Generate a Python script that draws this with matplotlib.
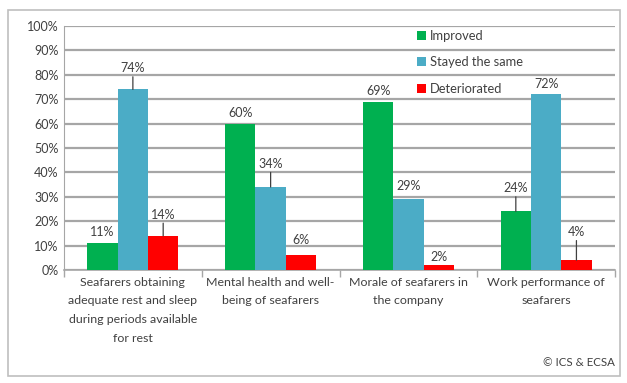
import matplotlib
matplotlib.use("Agg")
import matplotlib.pyplot as plt
import numpy as np
from matplotlib.patches import Rectangle

categories = ["Seafarers obtaining\nadequate rest and sleep\nduring periods available\nfor rest",
              "Mental health and well-\nbeing of seafarers",
              "Morale of seafarers in\nthe company",
              "Work performance of\nseafarers"]
series_names = ["Improved", "Stayed the same", "Deteriorated"]
improved = [11, 60, 69, 24]
stayed = [74, 34, 29, 72]
deteriorated = [14, 6, 2, 4]
yticks = [0, 10, 20, 30, 40, 50, 60, 70, 80, 90, 100]

colors = ["#00B050", "#4BACC6", "#FF0000"]
# label offsets (pixels above bar top) and whether a leader line is drawn
offsets = [[11, 21, 21], [11, 23, 15], [11, 13, 8], [23, 10, 28]]
leaders = [[False, True, True], [False, True, False], [False, False, False], [True, False, True]]

plt.rcParams['font.family'] = ['Lato', 'DejaVu Sans']
txt = "#404040"

fig = plt.figure(figsize=(6.27, 3.83), dpi=100)
fig.patches.append(Rectangle((8/627, 1-376/383), 612/627, 366/383, transform=fig.transFigure,
                             fill=False, edgecolor="#BFBFBF", linewidth=1.2))
ax = fig.add_axes([64/627, 1-270/383, 551/627, 244/383])

x = np.arange(len(categories))
w = 0.22
allv = [improved, stayed, deteriorated]
for s, (vals, c, name) in enumerate(zip(allv, colors, series_names)):
    xs = x + (s - 1) * w
    ax.bar(xs, vals, width=w, color=c, label=name, zorder=3)
    for i, v in enumerate(vals):
        off = offsets[i][s] * 0.72
        ax.annotate(f"{v}%", xy=(xs[i], v), xytext=(0, off), textcoords="offset points",
                    ha="center", va="center", fontsize=9, color=txt, zorder=4)
        if leaders[i][s]:
            ax.annotate("", xy=(xs[i], v), xytext=(0, off - 6), textcoords="offset points",
                        arrowprops=dict(arrowstyle="-", color="#404040", lw=0.9,
                                        shrinkA=0, shrinkB=0), zorder=4)

ax.set_xlim(-0.5, len(categories) - 0.5)
ax.set_ylim(0, 100)
ax.set_yticks(yticks)
ax.set_yticklabels([f"{t}%" for t in yticks], fontsize=9, color=txt)
ax.yaxis.grid(True, color="#A6A6A6", linewidth=1.6, zorder=0)
ax.set_axisbelow(True)
ax.tick_params(axis="y", length=0, pad=4)

ax.set_xticks(np.arange(len(categories) + 1) - 0.5, minor=False)
ax.set_xticklabels([""] * (len(categories) + 1))
ax.tick_params(axis="x", length=5, color="#A6A6A6", width=1)
for i, c in enumerate(categories):
    ax.text(i, -2.8, c, ha="center", va="top", fontsize=8.9, color=txt, linespacing=1.85)

for sp in ["top", "right"]:
    ax.spines[sp].set_visible(False)
ax.spines["left"].set_color("#A6A6A6")
ax.spines["bottom"].set_color("#A6A6A6")
ax.spines["bottom"].set_linewidth(1.2)

leg = ax.legend(loc="upper left", bbox_to_anchor=(0.625, 1.02), frameon=False, fontsize=9.3,
                handlelength=0.7, handleheight=0.7, handletextpad=0.3, labelspacing=1.1,
                borderaxespad=0.3)
for t in leg.get_texts():
    t.set_color(txt)

fig.text(615/627, 1-363/383, "© ICS & ECSA", ha="right", va="center", fontsize=8.3, color=txt)

fig.savefig("out.png", dpi=100)
